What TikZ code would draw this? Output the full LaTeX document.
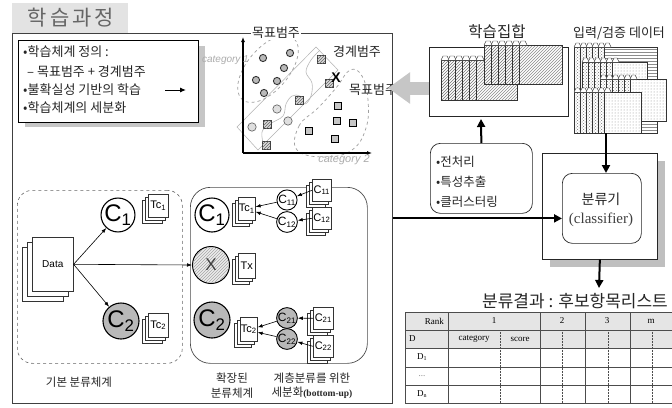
\documentclass[tikz,border=0pt]{standalone}
\usepackage{fontspec}
\setmainfont{Liberation Sans}
\newfontfamily\kr{Noto Sans CJK KR}
\newfontfamily\serif{Liberation Serif}
\usetikzlibrary{arrows.meta,patterns,calc}

\newcommand\fsz[1]{\fontsize{#1}{#1}\selectfont}

% a pile of index cards: left, top, bottom, right, number of strips, strip width,
% pattern of the strips, pattern of the front sheet
\newcommand\cardstack[8]{%
  \foreach \i in {0,...,#5}{%
    \pgfmathsetmacro\cx{#1+\i*#6}%
    \path[fill=white] (\cx,#2) rectangle (#4,#3);
    \ifnum\i<#5\relax
      \path[pattern=#7, pattern color=black!55] (\cx,#2) rectangle (#4,#3);
    \else
      \path[pattern=#8, pattern color=black!45] (\cx,#2) rectangle (#4,#3);
    \fi
    \draw[card] (\cx,#2) rectangle (#4,#3);
    \filldraw[card, fill=white] (\cx,#2) -- (\cx+2,#2-4) -- (\cx+#6-1,#2-4) -- (\cx+#6+1,#2);
  }}

% a small stack of three sheets: name, top-left x, top-left y, width, height, offset, label
\newcommand\sheets[7]{%
  \draw[sheet] (#2-2*#6,#3+2*#6) rectangle ++(#4,#5);
  \draw[sheet] (#2-#6,#3+#6) rectangle ++(#4,#5);
  \node[sheet, minimum width=#4, minimum height=#5, anchor=north west] (#1) at (#2,#3) {#7};}

\begin{document}
\begin{tikzpicture}[x=1pt,y=-1pt,
  card/.style={draw=black!80, line width=0.45pt},
  sheet/.style={draw=black!80, fill=white, line width=0.6pt, inner sep=0pt},
  ring/.style={circle, draw=black, line width=1.1pt, inner sep=0pt},
  smallring/.style={circle, draw=black, line width=0.9pt, inner sep=0pt, minimum size=19pt},
  thinarrow/.style={line width=0.6pt, -{Latex[length=5pt,width=3.6pt]}},
  heavyarrow/.style={line width=2pt, -{Triangle[length=8pt,width=8pt]}},
  dsh/.style={dashed, draw=gray!75, line width=0.7pt},
  krtext/.style={font=\kr\fsz{#1}, text=black!85, inner sep=0pt},
  tabtext/.style={font=\serif\fsz{9}, inner sep=0pt},
  darkdot/.style={fill=gray!55, draw=black!80, line width=0.9pt},
  lightdot/.style={fill=gray!25, draw=gray!70!black, line width=0.6pt},
  hsq/.style={fill=gray!30, draw=black!75, line width=0.6pt},
  dsq/.style={fill=gray!45, draw=black, line width=1.4pt}]

\useasboundingbox (0,0) rectangle (672,407);
\fill[white] (0,0) rectangle (672,407);

% ---------- title and main frame ----------
\fill[gray!22] (12,3) rectangle (128,33);
\node[font=\kr\fsz{21}, text=black!60, inner sep=0pt] (title) at (71,18)
  {학\hspace{3pt}습\hspace{3pt}과\hspace{3pt}정};
\node[draw=black!75, line width=0.8pt, minimum width=380, minimum height=370,
      anchor=north west, inner sep=0pt] (frame) at (12,33) {};

% ---------- notes box ----------
\fill[gray!45] (25,46) rectangle (205,127);
\node[draw=black, line width=0.8pt, fill=white, minimum width=180, minimum height=82,
      anchor=north west, inner sep=0pt] (notes) at (18,40) {};
\node[krtext=13, anchor=west] (n1) at (23,52) {•학습체계 정의 :};
\node[krtext=13, anchor=west] (n2) at (27,72) {– 목표범주 + 경계범주};
\node[krtext=13, anchor=west] (n3) at (23,90) {•불확실성 기반의 학습};
\node[krtext=13, anchor=west] (n4) at (23,108) {•학습체계의 세분화};
\coordinate (na) at (165,90);
\coordinate (nb) at (186,90);
\draw[line width=1pt, -{Latex[length=6pt,width=5pt]}] (na) -- (nb);

% ---------- scatter plot ----------
% boundary band and wavy separating line
\draw[gray!60, line width=0.5pt] (237,127) -- (258,150) -- (338,70) -- (316,47) -- cycle;
\draw[gray!55, line width=0.6pt] plot[smooth, tension=0.6] coordinates
  {(264,148) (262,132) (270,124) (283,116) (286,104) (292,96) (300,96) (305,104)
   (311,96) (312,83) (306,72) (311,60) (320,50)};
% class regions
\draw[dsh, rotate around={50:(268,69)}] (268,69) ellipse [x radius=40pt, y radius=21pt];
\draw[dsh] plot[smooth cycle, tension=0.7] coordinates
  {(297,150) (299,126) (318,108) (336,88) (350,70) (362,76) (368,100) (366,128) (352,150) (325,157)};
% axes
\coordinate (origin) at (243,153);
\coordinate (ytip) at (243,37);
\coordinate (xtip) at (372,153);
\draw[line width=1.5pt, -{Latex[length=5pt,width=4pt]}] (origin) -- (ytip);
\draw[line width=1.5pt, -{Latex[length=5pt,width=4pt]}] (origin) -- (xtip);
\node[font=\itshape\fsz{10}, text=gray!65, anchor=east, inner sep=0pt] (cat1) at (249,60) {category 1};
\node[font=\itshape\fsz{11}, text=gray!65, inner sep=0pt] (cat2) at (344,160) {category 2};
% points
\foreach \p in {(263,58),(290,53),(284,68),(256,80),(277,81),(264,93)}
  \draw[darkdot] \p circle [radius=3.6pt];
\foreach \p in {(277,109),(252,127),(288,121)}
  \draw[lightdot] \p circle [radius=4.2pt];
\foreach \p in {(321,59),(329,83),(299,100),(267,124),(266,145)}
  \draw[hsq] \p ++(-4,-4) rectangle ++(8,8);
\foreach \p in {(321,59),(329,83),(299,100),(267,124),(266,145)}
  \path[pattern=north east lines, pattern color=black!60] \p ++(-4,-4) rectangle ++(8,8);
\foreach \p in {(338,106),(337,121),(353,123),(309,131),(335,139)}
  \draw[dsq] \p ++(-3.3,-3.3) rectangle ++(6.6,6.6);
\node[font=\bfseries\fsz{14}, inner sep=0pt] (xmark) at (336,78) {X};
% region labels
\node[krtext=13, fill=white, inner sep=1pt] (tlab1) at (276,33) {목표범주};
\node[krtext=13] (blab) at (357,52) {경계범주};
\node[krtext=13, anchor=west] (tlab2) at (349,90) {목표범주};

% ---------- basic classification scheme ----------
\node[draw=black!60, dashed, line width=0.6pt, rounded corners=15pt, minimum width=165,
      minimum height=173, anchor=north west, inner sep=0pt] (basic) at (17,190) {};
\sheets{data}{32}{237}{41}{54}{5}{\fsz{10}Data}
\node[ring, minimum size=31pt, font=\fsz{24}] (c1) at (118,215) {C\textsubscript{1}};
\node[ring, minimum size=36pt, fill=gray!55, font=\fsz{24}] (c2) at (121,321) {C\textsubscript{2}};
\sheets{tc1}{148}{194}{20}{23}{3}{\fsz{11}Tc\textsubscript{1}}
\sheets{tc2}{148}{313}{20}{24}{3}{\fsz{11}Tc\textsubscript{2}}
\node[krtext=11.5] (basiclab) at (79,382) {기본 분류체계};

% ---------- extended scheme ----------
\node[draw=black!70, line width=0.7pt, rounded corners=20pt, minimum width=177,
      minimum height=176, anchor=north west, inner sep=0pt] (ext) at (190,187) {};
\node[ring, minimum size=34pt, font=\fsz{24}] (xc1) at (212,215) {C\textsubscript{1}};
\node[ring, minimum size=37pt, fill=gray!15, line width=1pt] (xx) at (211,265) {};
\path[pattern=north east lines, pattern color=gray!70] (xx) circle [radius=17.5pt];
\node[font=\fsz{17}, text=black!75, inner sep=0pt] (xxlab) at (xx) {X};
\node[ring, minimum size=36pt, fill=gray!55, font=\fsz{24}] (xc2) at (212,320) {C\textsubscript{2}};
\sheets{tc1x}{238}{197}{17}{23}{3}{\fsz{11}Tc\textsubscript{1}}
\sheets{tx}{238}{253}{17}{25}{3}{\fsz{11}Tx}
\sheets{tc2x}{240}{317}{17}{24}{3}{\fsz{11}Tc\textsubscript{2}}
% sub-classes
\node[smallring, font=\fsz{12}] (c11) at (287,200) {C\textsubscript{11}};
\node[smallring, font=\fsz{12}] (c12) at (287,222) {C\textsubscript{12}};
\node[smallring, fill=gray!55, font=\fsz{12}] (c21) at (287,318) {C\textsubscript{21}};
\node[smallring, fill=gray!55, font=\fsz{12}] (c22) at (287,339) {C\textsubscript{22}};
\sheets{d11}{312}{179}{19}{22}{3}{\fsz{11}C\textsubscript{11}}
\sheets{d12}{312}{207}{19}{22}{3}{\fsz{11}C\textsubscript{12}}
\sheets{d21}{313}{307}{20}{22}{3}{\fsz{11}C\textsubscript{21}}
\sheets{d22}{313}{335}{20}{22}{3}{\fsz{11}C\textsubscript{22}}
\node[krtext=11.5] (extlab1) at (232,378) {확장된};
\node[krtext=11.5] (extlab2) at (232,393) {분류체계};
\node[krtext=11.5] (sublab1) at (312,378) {계층분류를 위한};
\node[krtext=11.5] (sublab2) at (312,393) {세분화{\serif\bfseries\fsz{9.5}(bottom-up)}};

% connectors inside the frame
\draw[thinarrow] (data.east) -- (c1);
\draw[thinarrow] (data.east) -- (c2);
\draw[thinarrow] (data.east) -- (xx.west);
\draw[thinarrow] (d11.west) -- (c11);
\draw[thinarrow] (d12.west) -- (c12);
\draw[thinarrow] (d21.west) -- (c21);
\draw[thinarrow] (d22.west) -- (c22);
\draw[thinarrow] (c11) -- ([yshift=2pt]tc1x.east);
\draw[thinarrow] (c12) -- ([yshift=-3pt]tc1x.east);
\draw[thinarrow] (c21) -- ([yshift=2pt]tc2x.east);
\draw[thinarrow] (c22) -- ([yshift=-3pt]tc2x.east);

% ---------- learning set ----------
\node[krtext=15.5] (learnlab) at (497,32) {학습집합};
\node[draw=black!85, line width=0.7pt, minimum width=139, minimum height=69,
      anchor=north west, inner sep=0pt] (learnbox) at (429,47) {};
\cardstack{441}{60}{100}{517}{5}{7}{north east lines}{north east lines}
\cardstack{484}{45}{84}{562}{5}{7}{north east lines}{north east lines}

% ---------- input / validation data ----------
\node[krtext=13, anchor=west] (datalab) at (573,33) {입력/검증 데이터};
\cardstack{574}{47}{133}{657}{5}{6}{crosshatch dots}{horizontal lines}
\cardstack{582}{62}{110}{647}{5}{6}{crosshatch dots}{dots}
\cardstack{600}{79}{121}{666}{5}{6}{crosshatch dots}{dots}
\cardstack{574}{92}{133}{641}{5}{6}{crosshatch dots}{dots}
\coordinate (datastack) at (606,133);

% ---------- preprocessing ----------
\node[draw=black!85, line width=0.7pt, rounded corners=10pt, minimum width=102,
      minimum height=70, anchor=north west, inner sep=0pt] (prep) at (430,143) {};
\node[krtext=12.5, anchor=west] (p1) at (436,162) {•전처리};
\node[krtext=12.5, anchor=west] (p2) at (436,182) {•특성추출};
\node[krtext=12.5, anchor=west] (p3) at (436,202) {•클러스터링};
\coordinate (learnin) at (481,119);
\draw[heavyarrow] (prep.north) -- (learnin);

% ---------- classifier ----------
\fill[gray!50] (550,161) rectangle (665,267);
\node[draw=black!85, line width=0.7pt, fill=white, minimum width=115, minimum height=106,
      anchor=north west, inner sep=0pt] (clsbox) at (542,153) {};
\node[draw=black!85, line width=0.7pt, rounded corners=10pt, minimum width=79,
      minimum height=70, anchor=north west, inner sep=0pt] (cls) at (562,173) {};
\node[krtext=14] (clslab) at (601,199) {분류기};
\node[font=\serif\fsz{15}, text=black!75, inner sep=0pt] (clslab2) at (601,220) {(classifier)};
\draw[heavyarrow] (datastack) -- (cls.north -| datastack);
\draw[heavyarrow] (frame.east) -- (cls.west |- frame.east);
\coordinate (resultin) at (599,288);
\draw[heavyarrow] (clsbox.south) -- (resultin);

% arrow from the learning set back into the category space
\coordinate (scatterin) at (388,88);
\draw[gray!45, line width=13pt, -{Triangle[length=22pt,width=30pt]}]
  (learnbox.west |- scatterin) -- (scatterin);

% ---------- result table ----------
\node[krtext=17, anchor=west] (reslab) at (482,301) {분류결과 : 후보항목리스트};
\fill[gray!20] (405,312) rectangle (672,348);
\foreach \yy in {312,330,348,367,385,403}
  \draw[gray!60!black, line width=0.5pt] (405,\yy) -- (672,\yy);
\foreach \xx in {405,448,540,585,630}
  \draw[gray!60!black, line width=0.5pt] (\xx,312) -- (\xx,403);
\foreach \xx in {500,562,608,652}
  \draw[gray!60!black, line width=0.5pt, densely dotted] (\xx,330) -- (\xx,403);
\node[tabtext, anchor=east] (trank) at (444,321) {Rank};
\node[tabtext] (t1) at (494,321) {1};
\node[tabtext] (t2) at (562,321) {2};
\node[tabtext] (t3) at (607,321) {3};
\node[tabtext] (tm) at (651,321) {m};
\node[tabtext, anchor=west] (tD) at (409,339) {D};
\node[tabtext] (tcat) at (474,339) {category};
\node[tabtext] (tscore) at (520,339) {score};
\node[tabtext] (td1) at (422,357) {D\textsubscript{1}};
\node[tabtext, text=gray] (tdots) at (422,376) {...};
\node[tabtext] (tdn) at (422,394) {D\textsubscript{n}};

\end{tikzpicture}
\end{document}
